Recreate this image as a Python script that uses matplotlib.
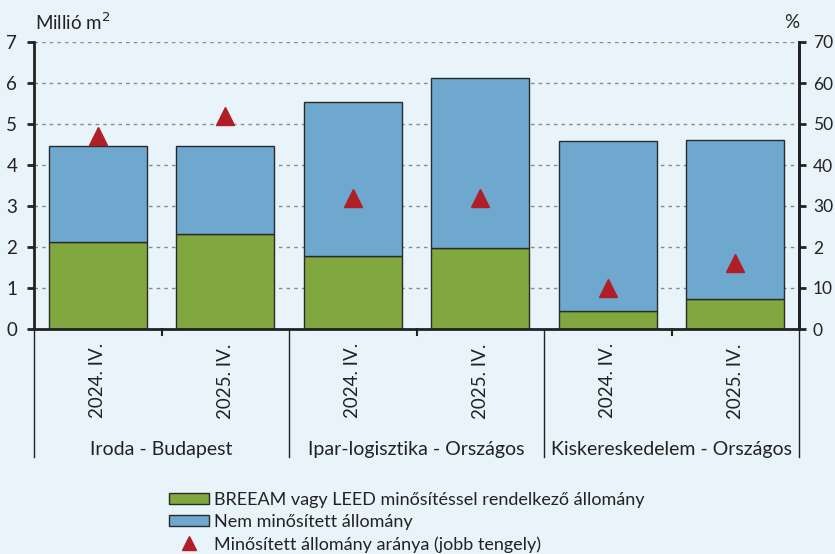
import matplotlib
matplotlib.use("Agg")
import matplotlib.pyplot as plt
from matplotlib.patches import Patch
from matplotlib.lines import Line2D
from matplotlib.transforms import blended_transform_factory

plt.rcParams['font.family'] = ['Lato', 'DejaVu Sans']

periods = ["2024. IV.", "2025. IV.", "2024. IV.", "2025. IV.", "2024. IV.", "2025. IV."]
groups = ["Iroda - Budapest", "Ipar-logisztika - Országos", "Kiskereskedelem - Országos"]
certified = [2.12, 2.32, 1.78, 1.98, 0.44, 0.73]
total = [4.46, 4.46, 5.54, 6.12, 4.59, 4.61]
non_certified = [t - c for t, c in zip(total, certified)]
share = [47, 52, 32, 32, 10, 16]
left_ticks = [0, 1, 2, 3, 4, 5, 6, 7]
right_ticks = [0, 10, 20, 30, 40, 50, 60, 70]
right_labels = ["0", "10", "2", "30", "40", "50", "60", "70"]

bg = "#e9f3fa"
green = "#80a83e"
blue = "#6fa8cf"
red = "#b01f27"
edge = "#2a2a2a"
txt = "#222222"

fig = plt.figure(figsize=(8.35, 5.54), dpi=100, facecolor=bg)
ax = fig.add_axes([34/835, 1-329/554, (799-34)/835, (329-42)/554])
ax.set_facecolor(bg)

x = list(range(len(periods)))
ax.set_xlim(-0.5, len(periods)-0.5)
ax.set_ylim(0, 7)
for yv in left_ticks[1:]:
    ax.axhline(yv, color="#888888", lw=1.0, ls=(0, (2.5, 3)), zorder=0)

w = 0.77
ax.bar(x, certified, width=w, color=green, edgecolor=edge, linewidth=1.0, zorder=2)
ax.bar(x, non_certified, bottom=certified, width=w, color=blue, edgecolor=edge, linewidth=1.0, zorder=2)

ax.set_yticks(left_ticks)
ax.set_yticklabels([str(v) for v in left_ticks], fontsize=13.5, color=txt)
ax.tick_params(axis='y', direction='out', length=5, width=2, color=txt, pad=7)
ax.set_xticks([])
ax.spines["top"].set_visible(False)
for s in ["left", "right", "bottom"]:
    ax.spines[s].set_linewidth(2)
    ax.spines[s].set_color(txt)

ax2 = ax.twinx()
ax2.set_ylim(0, 70)
ax2.plot(x, share, ls='none', marker='^', markersize=13, color=red, zorder=3)
ax2.set_yticks(right_ticks)
ax2.set_yticklabels(right_labels, fontsize=12.5, color=txt)
ax2.tick_params(axis='y', direction='out', length=5, width=2, color=txt, pad=5)
for s in ["top", "left", "bottom"]:
    ax2.spines[s].set_visible(False)
ax2.spines["right"].set_linewidth(2)
ax2.spines["right"].set_color(txt)

tr = blended_transform_factory(ax.transData, ax.transAxes)
for b in [0.5, 2.5, 4.5]:
    ax.plot([b, b], [0, -0.02], transform=tr, color=txt, lw=1.5, clip_on=False)
for b in [-0.5, 1.5, 3.5, 5.5]:
    ax.plot([b, b], [0, -0.445], transform=tr, color=txt, lw=1.0, clip_on=False)

for xi, p in zip(x, periods):
    ax.text(xi, -0.05, p, rotation=90, ha='center', va='top', transform=tr,
            fontsize=13.5, color=txt)
for gi, g in enumerate(groups):
    ax.text(2*gi + 0.5, -0.42, g, ha='center', va='center', transform=tr,
            fontsize=14, color=txt)

fig.text(35/835, 1-22/554, "Millió m$^2$", ha='left', va='center', fontsize=13.5, color=txt)
fig.text(792/835, 1-22/554, "%", ha='center', va='center', fontsize=13.5, color=txt)

handles = [
    Patch(facecolor=green, edgecolor=edge, linewidth=1.0),
    Patch(facecolor=blue, edgecolor=edge, linewidth=1.0),
    Line2D([], [], ls='none', marker='^', markersize=10, color=red),
]
labels = ["BREEAM vagy LEED minősítéssel rendelkező állomány",
          "Nem minősített állomány",
          "Minősített állomány aránya (jobb tengely)"]
leg = fig.legend(handles, labels, loc='upper left', bbox_to_anchor=(160/835, 1-483/554),
                 frameon=False, fontsize=13, handlelength=2.2, handleheight=0.6,
                 labelspacing=0.33, handletextpad=0.3, borderpad=0)
for t in leg.get_texts():
    t.set_color(txt)

fig.savefig("out.png", dpi=100, facecolor=bg)
